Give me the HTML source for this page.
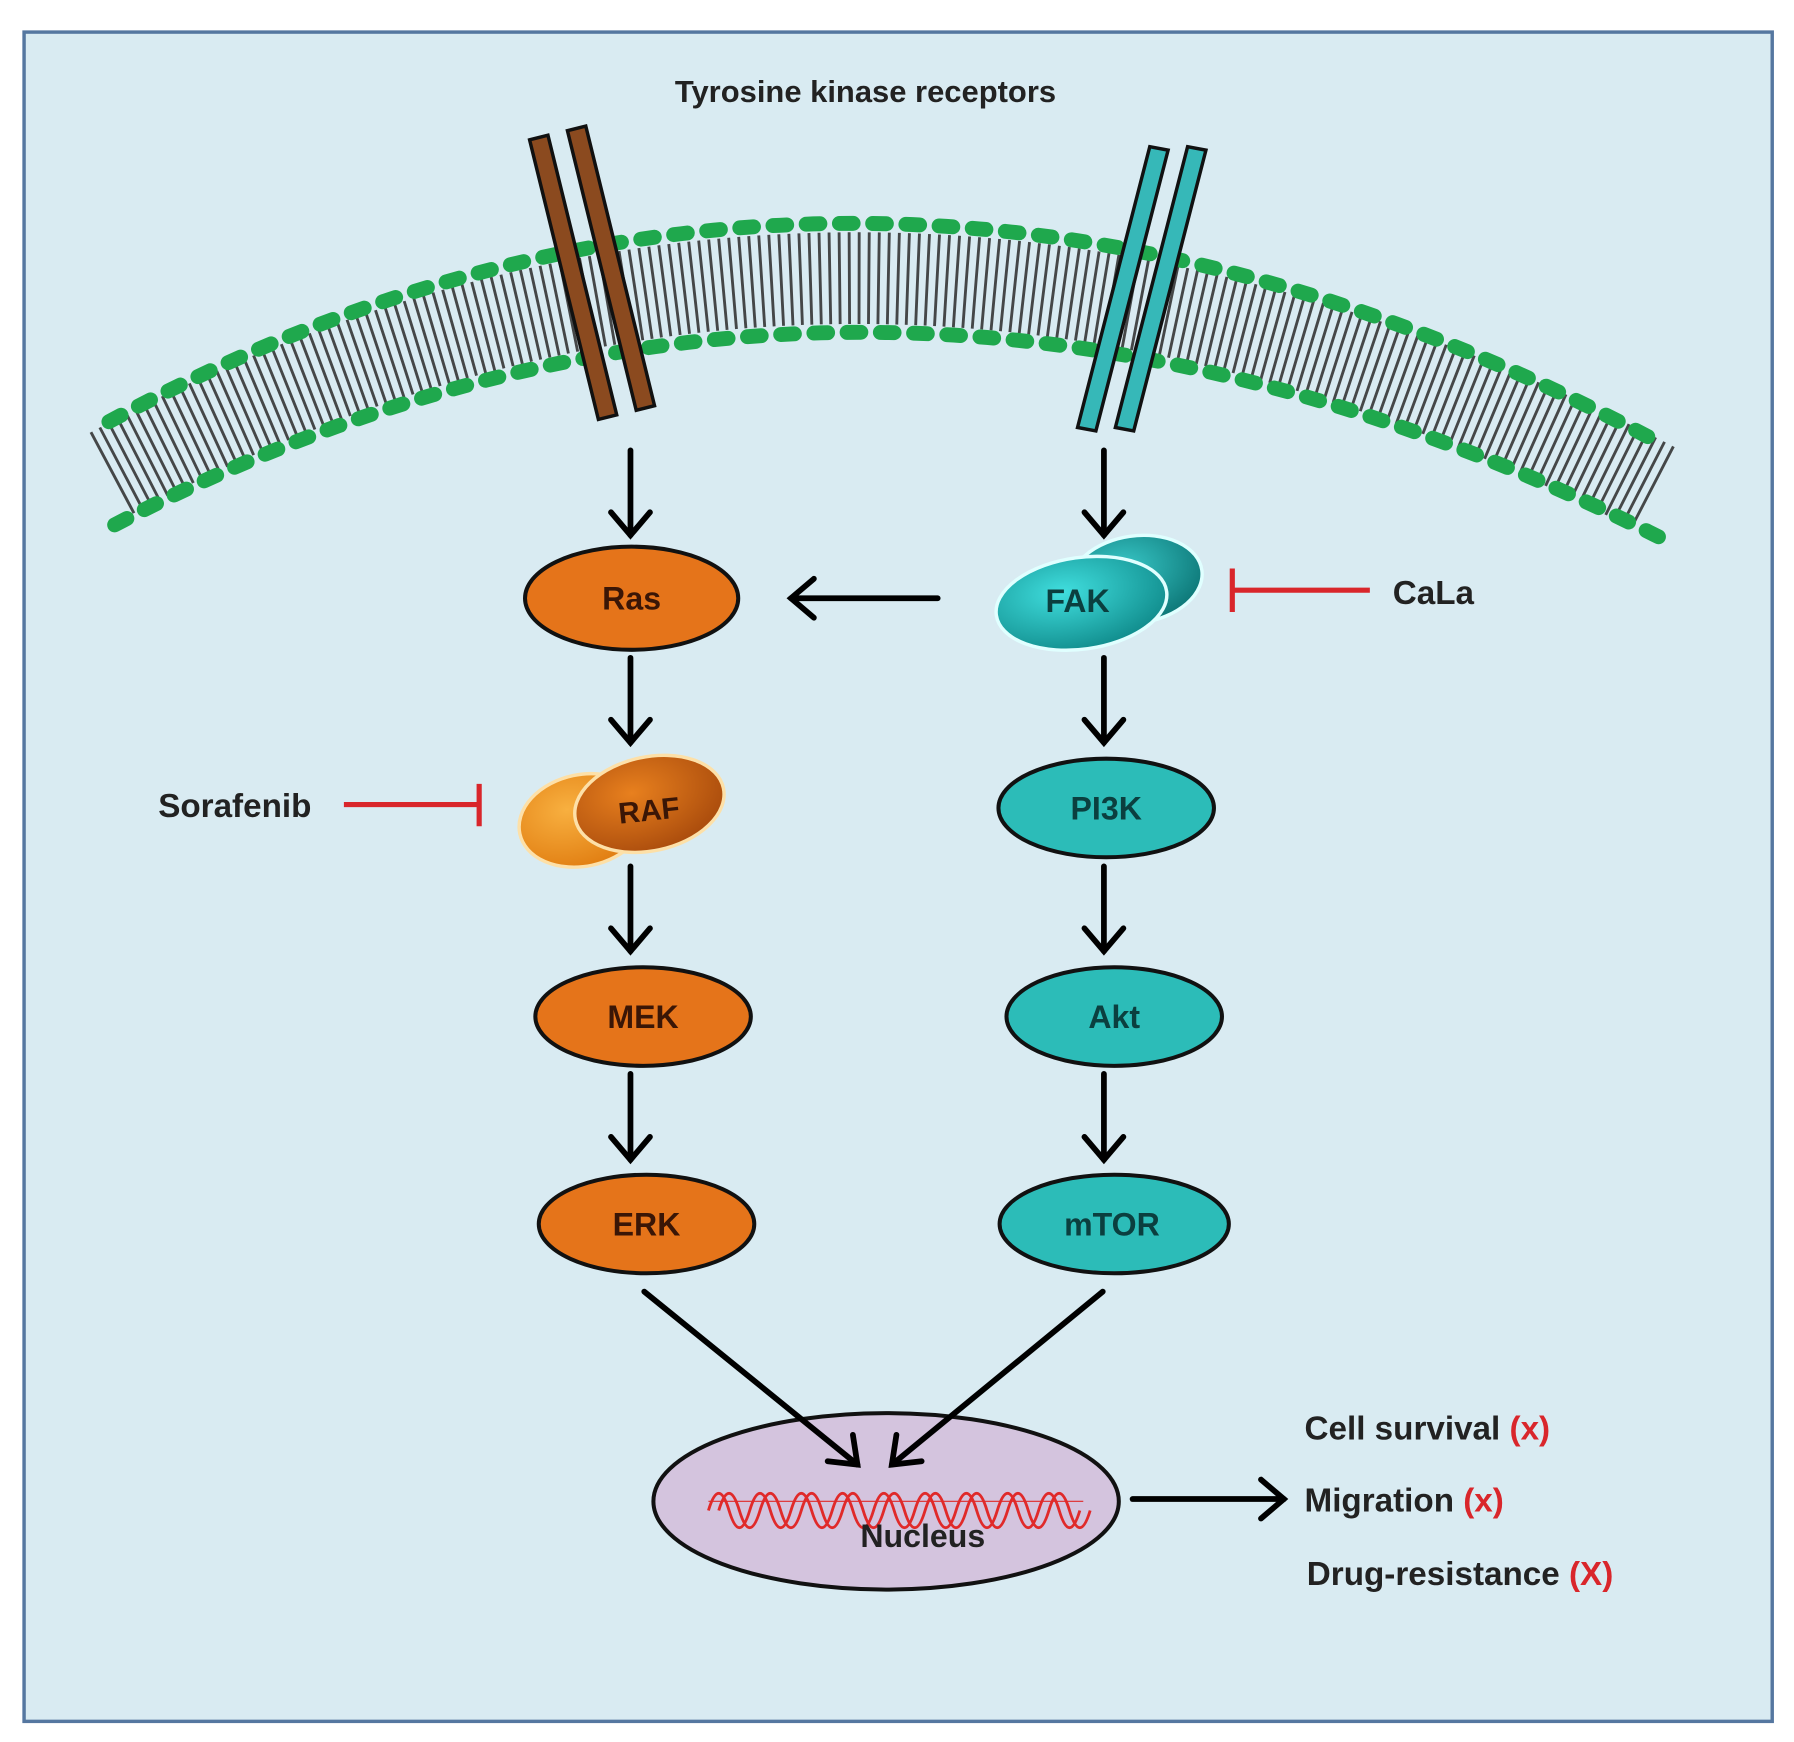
<!DOCTYPE html>
<html><head><meta charset="utf-8"><style>
html,body{margin:0;padding:0;background:#fff;}
svg{display:block;}
text{font-family:"Liberation Sans",Arial,sans-serif;font-weight:bold;}
</style></head><body>
<svg width="1794" height="1742" viewBox="0 0 1565 1520" preserveAspectRatio="none" xmlns="http://www.w3.org/2000/svg">
<defs>
<radialGradient id="rafF" cx="0.4" cy="0.35" r="0.7"><stop offset="0" stop-color="#e8801e"/><stop offset="1" stop-color="#a84a0c"/></radialGradient>
<radialGradient id="rafB" cx="0.4" cy="0.35" r="0.7"><stop offset="0" stop-color="#f8b040"/><stop offset="1" stop-color="#e07c10"/></radialGradient>
<radialGradient id="fakF" cx="0.4" cy="0.35" r="0.7"><stop offset="0" stop-color="#40dede"/><stop offset="1" stop-color="#0f8a8a"/></radialGradient>
<radialGradient id="fakB" cx="0.4" cy="0.35" r="0.7"><stop offset="0" stop-color="#39c9c9"/><stop offset="1" stop-color="#0c7575"/></radialGradient>
</defs>
<rect x="0" y="0" width="1565" height="1520" fill="#fff"/>
<rect x="21" y="28" width="1525" height="1474" fill="#d9ebf2" stroke="#5577a0" stroke-width="3"/>
<text x="755" y="89" font-size="27" text-anchor="middle" fill="#222">Tyrosine kinase receptors</text>

<!-- membrane tails -->
<path d="M97 413 Q751 65 1447 428" fill="none" stroke="#2a2a2a" stroke-width="80" stroke-dasharray="2.5 6" opacity="0.85"/>
<!-- heads -->
<path d="M95 368 Q750 13.5 1445 385" fill="none" stroke="#1fa84d" stroke-width="13" stroke-linecap="round" stroke-dasharray="12 17"/>
<path d="M100 458 Q752 116 1450 470" fill="none" stroke="#1fa84d" stroke-width="13" stroke-linecap="round" stroke-dasharray="12 17"/>

<!-- receptors -->
<g stroke="#111" stroke-width="3">
<polygon points="462,122 478,118 538,362 522,366" fill="#8b4a1f"/>
<polygon points="495,114 511,110 571,354 555,358" fill="#8b4a1f"/>
<polygon points="1003,128 1019,131 956,376 940,373" fill="#36b8b8"/>
<polygon points="1036,128 1052,131 989,376 973,373" fill="#36b8b8"/>
</g>

<!-- nucleus -->
<ellipse cx="773" cy="1310" rx="203" ry="77" fill="#d4c4de" stroke="#111" stroke-width="3.5"/>
<path d="M618 1318 q9 -30 18 0 t18 0 t18 0 t18 0 t18 0 t18 0 t18 0 t18 0 t18 0 t18 0 t18 0 t18 0 t18 0 t18 0 t18 0 t18 0 t18 0 t18 0" fill="none" stroke="#e02a2a" stroke-width="2.5"/>
<path d="M627 1318 q9 -30 18 0 t18 0 t18 0 t18 0 t18 0 t18 0 t18 0 t18 0 t18 0 t18 0 t18 0 t18 0 t18 0 t18 0 t18 0 t18 0 t18 0 t18 0" fill="none" stroke="#e02a2a" stroke-width="2.5"/>
<line x1="618" y1="1310" x2="945" y2="1310" stroke="#e02a2a" stroke-width="1"/>
<text x="805" y="1350" font-size="28" text-anchor="middle" fill="#222">Nucleus</text>

<!-- arrows -->
<g stroke="#000" stroke-width="5" fill="none" stroke-linecap="round">
<line x1="550" y1="393" x2="550" y2="467"/><polyline points="533,447 550,467 567,447"/>
<line x1="963" y1="393" x2="963" y2="467"/><polyline points="946,447 963,467 980,447"/>
<line x1="818" y1="522" x2="690" y2="522"/><polyline points="710,505 690,522 710,539"/>
<line x1="550" y1="574" x2="550" y2="648"/><polyline points="533,628 550,648 567,628"/>
<line x1="963" y1="574" x2="963" y2="648"/><polyline points="946,628 963,648 980,628"/>
<line x1="550" y1="756" x2="550" y2="830"/><polyline points="533,810 550,830 567,810"/>
<line x1="963" y1="756" x2="963" y2="830"/><polyline points="946,810 963,830 980,810"/>
<line x1="550" y1="937" x2="550" y2="1012"/><polyline points="533,992 550,1012 567,992"/>
<line x1="963" y1="937" x2="963" y2="1012"/><polyline points="946,992 963,1012 980,992"/>
<line x1="562" y1="1127" x2="748" y2="1278"/><polyline points="722,1275 748,1278 744,1252"/>
<line x1="962" y1="1127" x2="778" y2="1278"/><polyline points="782,1252 778,1278 804,1275"/>
<line x1="988" y1="1308" x2="1120" y2="1308"/><polyline points="1100,1291 1120,1308 1100,1325"/>
</g>

<!-- orange nodes -->
<g stroke="#111" stroke-width="3.5" fill="#e5741a">
<ellipse cx="551" cy="522" rx="93" ry="45"/>
<ellipse cx="561" cy="887" rx="94" ry="43"/>
<ellipse cx="564" cy="1068" rx="94" ry="43"/>
</g>
<g transform="rotate(-12 545 706)">
<ellipse cx="507" cy="708" rx="56" ry="40" fill="url(#rafB)" stroke="#fde0a8" stroke-width="3"/>
<ellipse cx="567" cy="706" rx="66" ry="41" fill="url(#rafF)" stroke="#fde0a8" stroke-width="3"/>
</g>
<!-- teal nodes -->
<g stroke="#111" stroke-width="3.5" fill="#2cbcb8">
<ellipse cx="965" cy="705" rx="94" ry="43"/>
<ellipse cx="972" cy="887" rx="94" ry="43"/>
<ellipse cx="972" cy="1068" rx="100" ry="43"/>
</g>
<g transform="rotate(-8 960 515)">
<ellipse cx="992" cy="510" rx="58" ry="38" fill="url(#fakB)" stroke="#e0ffff" stroke-width="3"/>
<ellipse cx="942" cy="524" rx="75" ry="40" fill="url(#fakF)" stroke="#e0ffff" stroke-width="3"/>
</g>

<g font-size="28" text-anchor="middle" fill="#3a1606">
<text x="551" y="532">Ras</text>
<text x="566" y="716" font-size="26" transform="rotate(-6 566 706)">RAF</text>
<text x="561" y="897">MEK</text>
<text x="564" y="1078">ERK</text>
</g>
<g font-size="28" text-anchor="middle" fill="#0b3f3f">
<text x="940" y="534">FAK</text>
<text x="965" y="715">PI3K</text>
<text x="972" y="897">Akt</text>
<text x="970" y="1078">mTOR</text>
</g>

<!-- inhibitors -->
<g stroke="#d9262b" stroke-width="4.5">
<line x1="1195" y1="515" x2="1075" y2="515"/><line x1="1075" y1="496" x2="1075" y2="534"/>
<line x1="300" y1="702" x2="418" y2="702"/><line x1="418" y1="684" x2="418" y2="721"/>
</g>
<text x="1215" y="527" font-size="29" fill="#222">CaLa</text>
<text x="138" y="713" font-size="29" fill="#222">Sorafenib</text>

<g font-size="29" fill="#222">
<text x="1138" y="1256">Cell survival <tspan fill="#d9262b">(x)</tspan></text>
<text x="1138" y="1319">Migration <tspan fill="#d9262b">(x)</tspan></text>
<text x="1140" y="1383">Drug-resistance <tspan fill="#d9262b">(X)</tspan></text>
</g>
</svg>
</body></html>
